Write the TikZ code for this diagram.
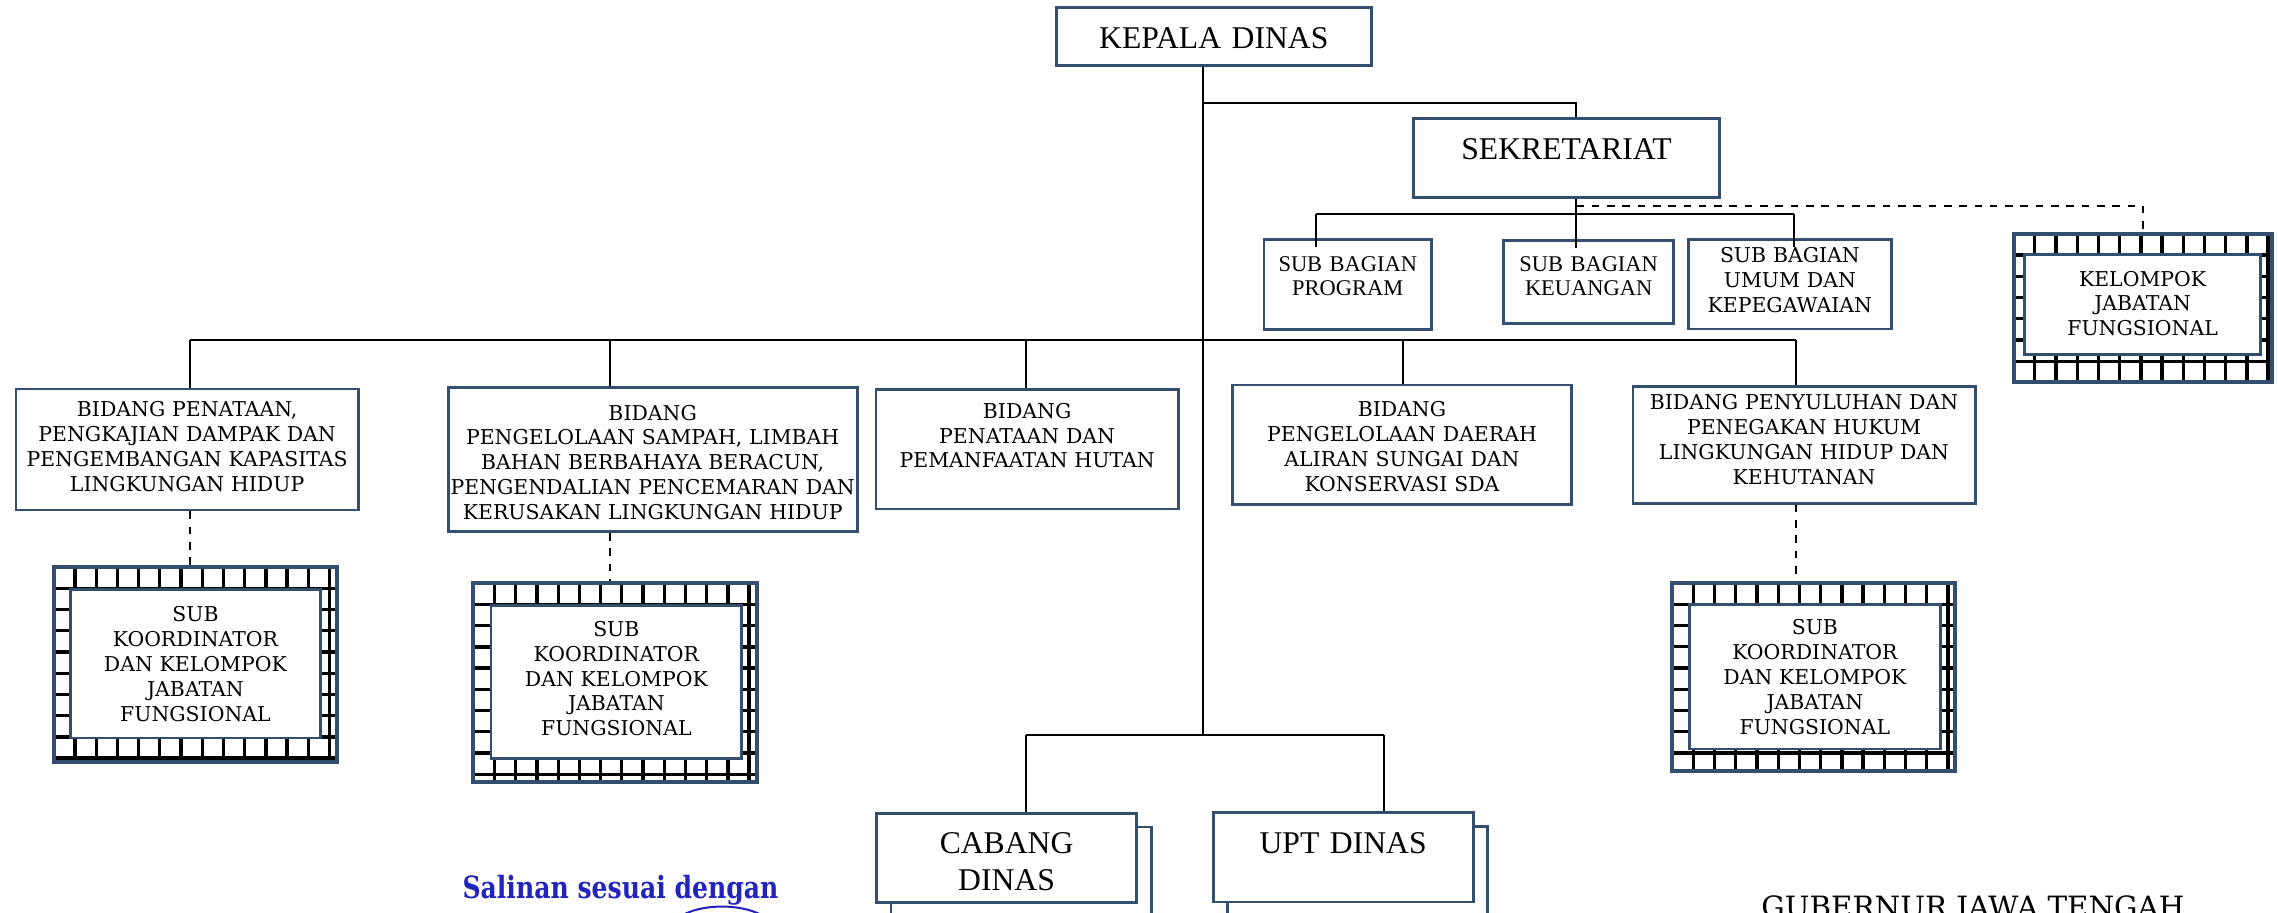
\documentclass[tikz,border=0pt]{standalone}
\usepackage{fontspec}
\setmainfont{DejaVu Serif}
\newfontfamily\tnrfont{Liberation Serif}
\newfontfamily\stampfont[FakeStretch=0.82]{DejaVu Serif}
\usepackage{xcolor}
\usepackage{tikz}
\usetikzlibrary{calc,positioning,shadows}
\definecolor{boxblue}{RGB}{52,78,112}
\definecolor{stampblue}{RGB}{35,35,190}
\newlength{\pxu}
\setlength{\pxu}{0.02cm}

\begin{document}
\begin{tikzpicture}
[x=0.02cm,y=-0.02cm,
 box/.style={shape=rectangle,draw=boxblue,line width=1.1pt,inner sep=0pt,align=center},
 sz/.style n args={3}{text width=#1\pxu,text height=#2\pxu,text depth=#3\pxu},
 wh/.style 2 args={minimum width=#1\pxu,minimum height=#2\pxu},
 big/.style={font=\tnrfont\fontsize{12.4}{14.5}\selectfont},
 tnr/.style={font=\tnrfont\fontsize{8.8}{9.5}\selectfont},
 small/.style={font=\fontsize{8}{9.75}\selectfont},
 gridbox/.style={draw=boxblue,line width=1.6pt,inner sep=0pt,
   path picture={
     \foreach \k in {1,...,16}{
       \draw[black,line width=1.3pt] ([xshift=\k*14.6*\pxu]path picture bounding box.north west)
         -- ([xshift=\k*14.6*\pxu]path picture bounding box.south west);
       \draw[black,line width=1.3pt] ([yshift=-\k*14.6*\pxu]path picture bounding box.north west)
         -- ([yshift=-\k*14.6*\pxu]path picture bounding box.north east);
     }}},
 shadowed/.style={fill=white,copy shadow={shadow xshift=10\pxu,shadow yshift=-9.5\pxu,
   draw=boxblue,fill=white,line width=1.1pt}},
 conn/.style={-,line width=0.8pt},
 dashln/.style={-,line width=0.8pt,dashed}]
\useasboundingbox (0,0) rectangle (1568,628);

\node[box,big,sz={217}{28.3}{11.7}] (kadis) at (835.5,25) {KEPALA DINAS};
\node[box,big,sz={210.5}{28.5}{26}] (sek) at (1078.25,108.75) {SEKRETARIAT};
\node[box,tnr,sz={115.4}{22}{40}] (sbp) at (927.7,196) {SUB BAGIAN\\PROGRAM};
\node[box,tnr,sz={117}{21.3}{35.5}] (sbk) at (1093.5,194.1) {SUB BAGIAN\\KEUANGAN};
\node[box,small,sz={140}{15.8}{45.7}] (sbu) at (1232,195.75) {SUB BAGIAN\\UMUM DAN\\KEPEGAWAIAN};
\node[gridbox,wh={178}{102}] (kjfo) at (1475,212) {};
\node[box,small,fill=white,sz={162.4}{21.9}{47.1}] (kjf) at (1474.8,209.5)
  {KELOMPOK\\JABATAN\\FUNGSIONAL};

\node[box,small,sz={235.6}{19}{64.2}] (bd1) at (128.8,309.4)
  {BIDANG PENATAAN,\\PENGKAJIAN DAMPAK DAN\\PENGEMBANGAN KAPASITAS\\LINGKUNGAN HIDUP};
\node[box,small,sz={281.5}{22.6}{76.9}] (bd2) at (449.25,316.25)
  {BIDANG\\PENGELOLAAN SAMPAH, LIMBAH\\BAHAN BERBAHAYA BERACUN,\\PENGENDALIAN PENCEMARAN DAN\\KERUSAKAN LINGKUNGAN HIDUP};
\node[box,small,sz={208}{19.8}{62.6}] (bd3) at (707,309.2)
  {BIDANG\\PENATAAN DAN\\PEMANFAATAN HUTAN};
\node[box,small,sz={233}{22}{60}] (bd4) at (965,306)
  {BIDANG\\PENGELOLAAN DAERAH\\ALIRAN SUNGAI DAN\\KONSERVASI SDA};
\node[box,small,sz={235.5}{16}{64.4}] (bd5) at (1241.75,306.2)
  {BIDANG PENYULUHAN DAN\\PENEGAKAN HUKUM\\LINGKUNGAN HIDUP DAN\\KEHUTANAN};

\node[gridbox,wh={194.8}{133.9}] (sk1o) at (134.4,457.35) {};
\node[box,small,fill=white,sz={172}{22.4}{80.1}] (sk1) at (134.5,456.75)
  {SUB\\KOORDINATOR\\DAN KELOMPOK\\JABATAN\\FUNGSIONAL};
\node[gridbox,wh={195.2}{136.5}] (sk2o) at (423.4,469.75) {};
\node[box,small,fill=white,sz={172.5}{21.5}{84}] (sk2) at (424.25,469.25)
  {SUB\\KOORDINATOR\\DAN KELOMPOK\\JABATAN\\FUNGSIONAL};
\node[gridbox,wh={194.7}{129.6}] (sk3o) at (1248.35,466.2) {};
\node[box,small,fill=white,sz={172.4}{21}{78.6}] (sk3) at (1249.2,465.8)
  {SUB\\KOORDINATOR\\DAN KELOMPOK\\JABATAN\\FUNGSIONAL};

\node[box,big,shadowed,sz={179}{27.6}{33.9}] (cab) at (692.85,590.55) {CABANG\\DINAS};
\node[box,big,shadowed,sz={179}{28.1}{33.5}] (upt) at (924.5,590.1) {UPT DINAS};

\node[font=\stampfont\bfseries\fontsize{12}{14}\selectfont,text=stampblue,
  anchor=base west,inner sep=0pt] (salin) at (318,618.3) {Salinan sesuai dengan};
\draw[stampblue,line width=0.8pt] (497,640) ellipse [x radius=35\pxu,y radius=16\pxu];
\node[font=\fontsize{11.5}{13}\selectfont,anchor=base west,inner sep=0pt] (gub)
  at (1212,631.8) {GUBERNUR JAWA TENGAH};

% garis
\coordinate (tk) at (828,506);
\coordinate (t1) at (828,71);
\coordinate (sx) at (1085,141.5);
\coordinate (s1) at (906,147);
\coordinate (s3) at (1235,147);
\coordinate (c1) at (131,234);
\coordinate (c2) at (420,234);
\coordinate (c3) at (706,234);
\coordinate (c4) at (966,234);
\coordinate (c5) at (1236.5,234);
\coordinate (b1) at (706,506);
\coordinate (b2) at (952.7,506);

\draw[conn] (kadis.south -| tk) -- (tk);
\draw[conn] (t1) -| (sx |- sek.north);
\draw[conn] (sx |- sek.south) -- ([yshift=-6\pxu]sx |- sbk.north);
\draw[conn] (s1) -- (s3);
\draw[dashln] (sx) -| (kjfo.north);
\draw[conn] (c1) -- (c5);
\draw[conn] (b1) -- (b2);
\path
\foreach \c/\n in {s1/sbp,s3/sbu}
{
	(\c) edge[conn,shorten >=-6\pxu] (\c |- \n.north)
}
\foreach \c/\n in {c1/bd1,c2/bd2,c3/bd3,c4/bd4,c5/bd5,b1/cab,b2/upt}
{
	(\c) edge[conn] (\c |- \n.north)
}
\foreach \c/\n/\m in {c1/bd1/sk1o,c2/bd2/sk2o,c5/bd5/sk3o}
{
	(\c |- \n.south) edge[dashln] (\c |- \m.north)
};
\end{tikzpicture}
\end{document}
